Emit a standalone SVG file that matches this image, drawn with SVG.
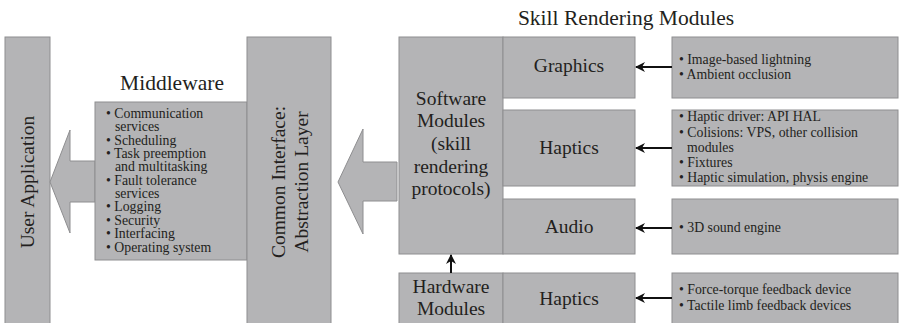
<svg xmlns="http://www.w3.org/2000/svg" width="900" height="323" viewBox="0 0 900 323">
<style>
.box{fill:#b4b4b6;stroke:#8e8e90;stroke-width:1}
.t{font-family:"Liberation Serif","DejaVu Serif",serif;fill:#231f20}
.big{font-size:19.5px;text-anchor:middle}
.title{font-size:21.5px;text-anchor:middle}
.sm{font-size:13.8px}
.conn{stroke:#111;stroke-width:2;fill:none}
</style>
<defs>
<marker id="ah" viewBox="0 0 10 10" refX="9" refY="5" markerWidth="5.5" markerHeight="5" orient="auto-start-reverse" markerUnits="strokeWidth">
<path d="M0,0 L10,5 L0,10 L3,5 Z" fill="#111"/>
</marker>
</defs>
<rect width="900" height="323" fill="#fff"/>

<g id="user-application">
<rect class="box" x="5" y="37" width="45" height="290"/>
<text class="t big" transform="translate(34,182) rotate(-90)">User Application</text>
</g>

<g id="middleware">
<text class="t title" x="172" y="90">Middleware</text>
<polygon class="box" points="95,161 70,161 70,130 50,182 70,233 70,202 95,202"/>
<rect class="box" x="95" y="102" width="152" height="158"/>
<g class="t sm">
<text x="106" y="118">• Communication<tspan x="115" dy="13">services</tspan></text>
<text x="106" y="144.5">• Scheduling</text>
<text x="106" y="158">• Task preemption<tspan x="115" dy="13">and multitasking</tspan></text>
<text x="106" y="184.5">• Fault tolerance<tspan x="115" dy="13.5">services</tspan></text>
<text x="106" y="211">• Logging</text>
<text x="106" y="224.5">• Security</text>
<text x="106" y="238">• Interfacing</text>
<text x="106" y="251.5">• Operating system</text>
</g>
</g>

<g id="common-interface">
<rect class="box" x="247" y="37" width="84" height="290"/>
<text class="t big" transform="translate(285,182) rotate(-90)">Common Interface:</text>
<text class="t big" transform="translate(308,182) rotate(-90)">Abstraction Layer</text>
</g>

<g id="arrow-to-interface">
<polygon class="box" points="397,162 363,162 363,129 338,182 363,234 363,201 397,201"/>
</g>

<text class="t title" x="626" y="25">Skill Rendering Modules</text>

<g id="software-modules">
<rect class="box" x="399" y="37" width="104" height="217"/>
<g class="t big">
<text x="451" y="105">Software</text>
<text x="451" y="127">Modules</text>
<text x="451" y="150">(skill</text>
<text x="451" y="173">rendering</text>
<text x="451" y="195">protocols)</text>
</g>
</g>

<g id="graphics">
<rect class="box" x="503" y="37" width="132" height="61"/>
<text class="t big" x="569" y="72">Graphics</text>
</g>
<g id="haptics-sw">
<rect class="box" x="503" y="110" width="132" height="76"/>
<text class="t big" x="569" y="154">Haptics</text>
</g>
<g id="audio">
<rect class="box" x="503" y="199" width="132" height="55"/>
<text class="t big" x="569" y="233">Audio</text>
</g>

<g id="hardware-modules">
<rect class="box" x="399" y="273" width="104" height="60"/>
<g class="t big">
<text x="451" y="293">Hardware</text>
<text x="451" y="315">Modules</text>
</g>
</g>
<g id="haptics-hw">
<rect class="box" x="503" y="273" width="132" height="60"/>
<text class="t big" x="569" y="305">Haptics</text>
</g>

<g id="graphics-desc">
<rect class="box" x="672" y="37" width="226" height="61"/>
<g class="t sm">
<text x="679" y="64">• Image-based lightning</text>
<text x="679" y="79">• Ambient occlusion</text>
</g>
</g>
<g id="haptics-desc">
<rect class="box" x="672" y="110" width="226" height="76"/>
<g class="t sm">
<text x="679" y="121">• Haptic driver: API HAL</text>
<text x="679" y="137">• Colisions: VPS, other collision<tspan x="687" dy="15">modules</tspan></text>
<text x="679" y="167">• Fixtures</text>
<text x="679" y="182">• Haptic simulation, physis engine</text>
</g>
</g>
<g id="audio-desc">
<rect class="box" x="672" y="199" width="226" height="55"/>
<text class="t sm" x="679" y="232">• 3D sound engine</text>
</g>
<g id="hw-haptics-desc">
<rect class="box" x="672" y="273" width="226" height="60"/>
<g class="t sm">
<text x="679" y="294">• Force-torque feedback device</text>
<text x="679" y="310">• Tactile limb feedback devices</text>
</g>
</g>

<g id="connectors">
<line class="conn" x1="672" y1="67" x2="636" y2="67" marker-end="url(#ah)"/>
<line class="conn" x1="672" y1="148" x2="636" y2="148" marker-end="url(#ah)"/>
<line class="conn" x1="672" y1="228" x2="636" y2="228" marker-end="url(#ah)"/>
<line class="conn" x1="672" y1="298" x2="636" y2="298" marker-end="url(#ah)"/>
<line class="conn" x1="451" y1="273" x2="451" y2="255" marker-end="url(#ah)"/>
</g>
</svg>
